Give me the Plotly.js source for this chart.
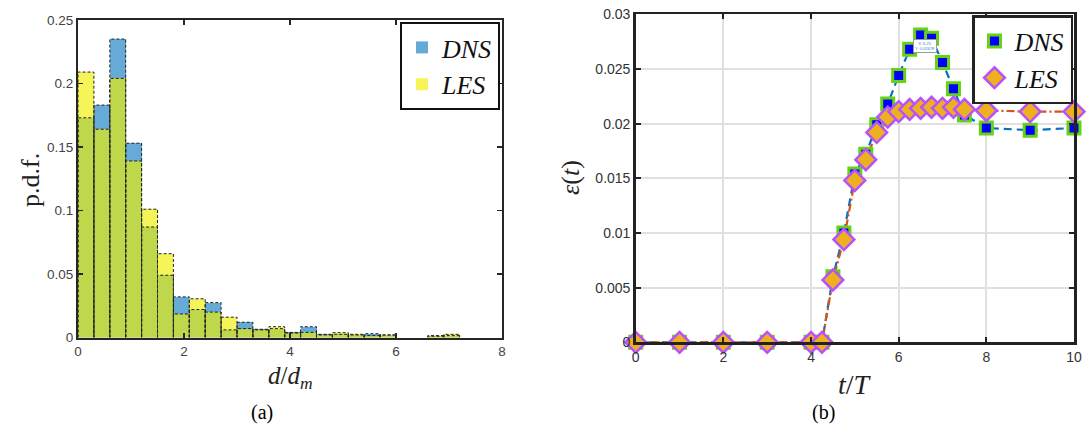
<!DOCTYPE html>
<html><head><meta charset="utf-8">
<script src="https://cdn.plot.ly/plotly-3.0.1.min.js"></script>
<style>html,body{margin:0;padding:0;background:#fff}#c{width:1090px;height:434px}</style>
</head><body><div id="c"></div>
<script>
// ---- (a) histogram data ----
const binCenters = [0.15,0.45,0.75,1.05,1.35,1.65,1.95,2.25,2.55,2.85,3.15,3.45,3.75,4.05,4.35,4.65,4.95,5.25,5.55,5.85,6.15,6.45,6.75,7.05];
const binWidth = 0.3;
const pdfDNS = [0.173,0.183,0.235,0.153,0.087,0.049,0.032,0.022,0.0275,0.006,0.012,0.0065,0.007,0.004,0.0085,0.0025,0.0025,0.002,0.003,0.002,0,0,0.001,0.0015];
const pdfLES = [0.209,0.164,0.204,0.139,0.101,0.066,0.0185,0.0305,0.020,0.016,0.007,0.006,0.0085,0.0035,0.004,0.002,0.0038,0.0025,0.0015,0.002,0,0,0.0015,0.0025];

// ---- (b) dissipation data ----
const timeT = [0,1,2,3,4,4.25,4.5,4.75,5,5.25,5.5,5.75,6,6.25,6.5,6.75,7,7.25,7.5,8,9,10];
const epsDNS = [0,0,0,0,0,0,0.0060,0.0100,0.0154,0.0172,0.0199,0.0218,0.0244,0.0268,0.0281,0.0278,0.0256,0.0232,0.0208,0.0196,0.0194,0.0196];
const epsLES = [0,0,0,0,0,0,0.0057,0.0094,0.0148,0.0167,0.0192,0.0206,0.0211,0.0213,0.0214,0.0215,0.0214,0.0215,0.0213,0.0212,0.0211,0.0211];

const xTicksA = [0,2,4,6,8];
const yTicksA = [0,0.05,0.1,0.15,0.2,0.25];
const xTicksB = [0,2,4,6,8,10];
const yTicksB = [0,0.005,0.01,0.015,0.02,0.025,0.03];

function outline(centers, heights, w) {
  const xs = [], ys = [];
  centers.forEach((c, i) => {
    if (!heights[i]) return;
    const a = c - w / 2, b = c + w / 2;
    xs.push(a, a, b, b, null);
    ys.push(0, heights[i], heights[i], 0, null);
  });
  return {xs, ys};
}
const oD = outline(binCenters, pdfDNS, binWidth);
const oL = outline(binCenters, pdfLES, binWidth);

const serif = 'Liberation Serif, DejaVu Serif, serif';
const sans = 'Liberation Sans, Arial, sans-serif';

const sqMarker = {symbol:'square', size:12, color:'rgb(0,0,255)', line:{color:'rgb(102,210,20)', width:3}};
const diMarker = {symbol:'diamond', size:16, color:'rgb(237,177,32)', line:{color:'rgb(185,80,255)', width:2.5}};

const traces = [
  {type:'bar', x:binCenters, y:pdfDNS, width:binWidth, name:'<i>DNS</i>',
   marker:{color:'rgba(0,114,189,0.6)', line:{width:0}}, xaxis:'x', yaxis:'y', legend:'legend'},
  {type:'bar', x:binCenters, y:pdfLES, width:binWidth, name:'<i>LES</i>',
   marker:{color:'rgba(240,240,0,0.65)', line:{width:0}}, xaxis:'x', yaxis:'y', legend:'legend'},
  {type:'scatter', mode:'lines', x:oD.xs, y:oD.ys, line:{color:'#222', width:1, dash:'3px,2px'},
   showlegend:false, hoverinfo:'skip', xaxis:'x', yaxis:'y'},
  {type:'scatter', mode:'lines', x:oL.xs, y:oL.ys, line:{color:'#222', width:1, dash:'3px,2px'},
   showlegend:false, hoverinfo:'skip', xaxis:'x', yaxis:'y'},
  // lines (no legend)
  {type:'scatter', mode:'lines', x:timeT, y:epsDNS, showlegend:false,
   line:{color:'rgb(0,114,189)', width:2.2, dash:'8px,5px'}, xaxis:'x2', yaxis:'y2'},
  {type:'scatter', mode:'lines', x:timeT, y:epsLES, showlegend:false,
   line:{color:'rgb(217,83,25)', width:2.2, dash:'8px,3px,2px,3px'}, xaxis:'x2', yaxis:'y2'},
  // markers (legend)
  {type:'scatter', mode:'markers', x:timeT, y:epsDNS, name:'<i>DNS</i>', marker:sqMarker,
   xaxis:'x2', yaxis:'y2', legend:'legend2', cliponaxis:false},
  {type:'scatter', mode:'markers', x:timeT, y:epsLES, name:'<i>LES</i>', marker:diMarker,
   xaxis:'x2', yaxis:'y2', legend:'legend2', cliponaxis:false}
];

const W = 1090, H = 434;
const axBase = {showline:true, linecolor:'#262626', mirror:'ticks', ticks:'inside', ticklen:5, tickwidth:1.5,
  tickcolor:'#262626', zeroline:false, fixedrange:true, tickfont:{family:sans, size:13.5, color:'#444'}};

function ann(text, x, y, size, extra) {
  return Object.assign({text, xref:'paper', yref:'paper', x:x/W, y:(H-y)/H, xanchor:'center', yanchor:'middle',
    showarrow:false, font:{family:serif, size, color:'#222'}}, extra || {});
}

const layout = {
  width:W, height:H, margin:{l:0, r:0, t:0, b:0}, paper_bgcolor:'#fff', plot_bgcolor:'#fff',
  barmode:'overlay', bargap:0, showlegend:true,
  xaxis:Object.assign({}, axBase, {domain:[78/W, 502/W], range:[0,8], tickvals:xTicksA, anchor:'y', showgrid:false, linewidth:2}),
  yaxis:Object.assign({}, axBase, {domain:[(H-337.5)/H, (H-20)/H], range:[0,0.25], tickvals:yTicksA, anchor:'x', showgrid:false, linewidth:2}),
  xaxis2:Object.assign({}, axBase, {domain:[635.7/W, 1074/W], range:[0,10], tickvals:xTicksB, anchor:'y2',
    showgrid:true, gridcolor:'#e0e0e0', gridwidth:2, linewidth:2.5, tickwidth:2, linecolor:'#222', tickcolor:'#222',
    tickfont:{family:sans, size:14, color:'#333'}}),
  yaxis2:Object.assign({}, axBase, {domain:[(H-342.3)/H, (H-14.3)/H], range:[0,0.03], tickvals:yTicksB, anchor:'x2',
    showgrid:true, gridcolor:'#e0e0e0', gridwidth:2, linewidth:2.5, tickwidth:2, linecolor:'#222', tickcolor:'#222',
    tickfont:{family:sans, size:14, color:'#333'}}),
  legend:{x:500/W, y:(H-22)/H, xanchor:'right', yanchor:'top', bgcolor:'#fff', bordercolor:'#111', borderwidth:2,
    font:{family:serif, size:26, color:'#111'}, itemwidth:30, tracegroupgap:0},
  legend2:{x:1073/W, y:(H-15)/H, xanchor:'right', yanchor:'top', bgcolor:'#fff', bordercolor:'#222', borderwidth:2.5,
    font:{family:serif, size:26, color:'#111'}, itemwidth:30, tracegroupgap:0},
  annotations:[
    ann('p.d.f.', 30, 180, 26, {textangle:-90}),
    ann('<i>d</i>/<i>d</i><sub><i>m</i></sub>', 290, 377, 25),
    ann('<i>ε</i>(<i>t</i>)', 570, 178, 26, {textangle:-90}),
    ann('<i>t</i>/<i>T</i>', 855, 384, 28),
    ann('(a)', 262, 412, 20, {font:{family:serif, size:20, color:'#000'}}),
    ann('(b)', 823, 412, 20, {font:{family:serif, size:20, color:'#000'}}),
    {text:'X: 6.25<br>Y: 0.02678', xref:'x2', yref:'y2', x:6.6, y:0.0271, showarrow:false,
     font:{family:sans, size:4, color:'#2a7fd4'}, bgcolor:'#fff', bordercolor:'#999', borderwidth:1, borderpad:1}
  ]
};

Plotly.newPlot('c', traces, layout, {staticPlot:true, displayModeBar:false});
</script></body></html>
